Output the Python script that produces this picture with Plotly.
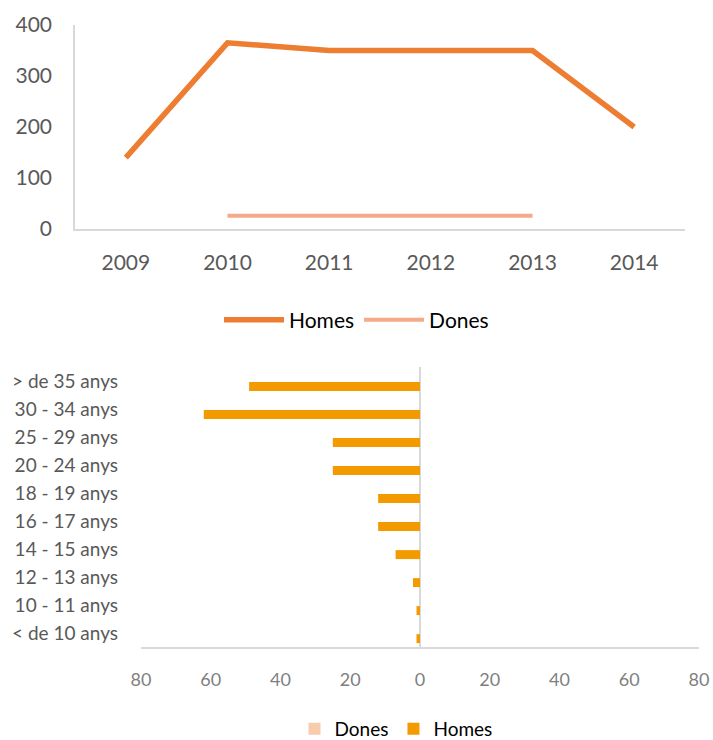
import plotly.graph_objects as go

# --- Evolution per year ---
years = ["2009", "2010", "2011", "2012", "2013", "2014"]
homes_year = [140, 365, 350, 350, 350, 200]
dones_year = [None, 26, 26, 26, 26, None]

# --- Age distribution (top to bottom) ---
age_groups = [
    "> de 35 anys", "30 - 34 anys", "25 - 29 anys", "20 - 24 anys",
    "18 - 19 anys", "16 - 17 anys", "14 - 15 anys", "12 - 13 anys",
    "10 - 11 anys", "< de 10 anys",
]
homes_age = [49, 62, 25, 25, 12, 12, 7, 2, 1, 1]
dones_age = [0, 0, 0, 0, 0, 0, 0, 0, 0, 0]

pyramid_ticks = [-80, -60, -40, -20, 0, 20, 40, 60, 80]
pyramid_ticktext = [str(abs(v)) for v in pyramid_ticks]

W, H = 713, 740
FONT = "Lato"
GREY_TXT = "#595959"
AXIS = "#D9D9D9"

ORANGE = "#ED7D31"
SALMON = "#F4AA8A"
BAR_HOMES = "#F39A00"
BAR_DONES = "#F8CBAD"

fig = go.Figure()

fig.add_trace(go.Scatter(
    x=years, y=homes_year, name="Homes", mode="lines",
    line=dict(color=ORANGE, width=5.5), xaxis="x", yaxis="y",
    legend="legend", connectgaps=False,
))
fig.add_trace(go.Scatter(
    x=years, y=dones_year, name="Dones", mode="lines",
    line=dict(color=SALMON, width=4), xaxis="x", yaxis="y",
    legend="legend", connectgaps=False,
))

fig.add_trace(go.Bar(
    y=age_groups, x=[-v for v in dones_age], name="Dones", orientation="h",
    marker=dict(color=BAR_DONES, line=dict(width=0)),
    width=0.32, offset=-0.30, xaxis="x2", yaxis="y2", legend="legend2",
))
fig.add_trace(go.Bar(
    y=age_groups, x=[-v for v in homes_age], name="Homes", orientation="h",
    marker=dict(color=BAR_HOMES, line=dict(width=0)),
    width=0.32, offset=0.04, xaxis="x2", yaxis="y2", legend="legend2",
))


def px_x(p):
    return p / W


def px_y(p):
    return 1 - p / H


fig.update_layout(
    width=W, height=H,
    margin=dict(l=0, r=0, t=0, b=0, autoexpand=False),
    paper_bgcolor="white", plot_bgcolor="white",
    font=dict(family=FONT, color=GREY_TXT),
    barmode="overlay",
    showlegend=True,
    xaxis=dict(
        domain=[px_x(75), px_x(685)], anchor="y",
        type="category", range=[-0.5, 5.5],
        showline=True, linecolor=AXIS, linewidth=1.5,
        showgrid=False, zeroline=False, ticks="",
        tickfont=dict(size=21, color=GREY_TXT, family=FONT),
        ticklabelstandoff=14, automargin=False,
    ),
    yaxis=dict(
        domain=[px_y(229), px_y(25)], anchor="x",
        range=[0, 400], tickvals=[0, 100, 200, 300, 400],
        showline=True, linecolor=AXIS, linewidth=1.5,
        showgrid=False, zeroline=False, ticks="",
        tickfont=dict(size=21, color=GREY_TXT, family=FONT),
        ticklabelstandoff=17, automargin=False,
    ),
    xaxis2=dict(
        domain=[px_x(141), px_x(699)], anchor="y2",
        range=[-80, 80], tickvals=pyramid_ticks, ticktext=pyramid_ticktext,
        showline=True, linecolor=AXIS, linewidth=1.5,
        showgrid=False, zeroline=True, zerolinecolor=AXIS, zerolinewidth=1.5,
        ticks="",
        tickfont=dict(size=18, color="#7F7F7F", family=FONT),
        ticklabelstandoff=16, automargin=False,
    ),
    yaxis2=dict(
        domain=[px_y(647), px_y(367)], anchor="x2",
        type="category", range=[9.5, -0.5],
        showline=False, showgrid=False, zeroline=False, ticks="",
        tickfont=dict(size=19, color=GREY_TXT, family=FONT),
        ticklabelstandoff=22, automargin=False,
    ),
    legend=dict(
        orientation="h", x=0.5, xanchor="center",
        y=px_y(320), yanchor="middle",
        font=dict(size=21, color="#000000", family=FONT),
        itemwidth=60, bgcolor="rgba(0,0,0,0)",
    ),
    legend2=dict(
        orientation="h", x=px_x(396), xanchor="center",
        y=px_y(729), yanchor="middle",
        font=dict(size=19, color="#000000", family=FONT),
        bgcolor="rgba(0,0,0,0)", itemwidth=30,
    ),
)

fig.write_html("out.html")
